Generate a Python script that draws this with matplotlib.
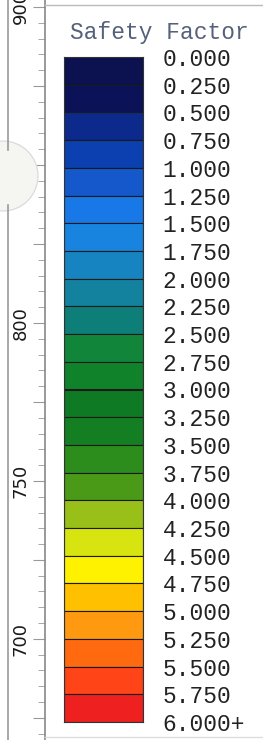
import matplotlib
matplotlib.use("Agg")
import matplotlib.pyplot as plt
from matplotlib.lines import Line2D
from matplotlib.patches import Circle

# legend levels and band colours
levels = [0.0, 0.25, 0.5, 0.75, 1.0, 1.25, 1.5, 1.75, 2.0, 2.25, 2.5, 2.75,
          3.0, 3.25, 3.5, 3.75, 4.0, 4.25, 4.5, 4.75, 5.0, 5.25, 5.5, 5.75, 6.0]
level_labels = [f"{v:.3f}" for v in levels[:-1]] + ["6.000+"]
band_colors = [
    "#0c1150", "#0b1258", "#0b2a8c", "#0c40b0", "#1458cc", "#1878e8",
    "#1884e0", "#1584c0", "#12829e", "#0e7e78", "#11863a", "#10832a",
    "#0f7a24", "#147e22", "#2c8c1c", "#4a9a18", "#98c018", "#d8e410",
    "#fff200", "#ffc000", "#ff9a10", "#ff6a10", "#ff4418", "#ee2020",
]
title = "Safety Factor"

# ruler on the left edge of the scan
ruler_range = (668.0, 902.2)
ruler_labels = [700, 750, 800, 900]

W, H = 263, 740
fig = plt.figure(figsize=(W / 100, H / 100), dpi=100)
fig.patch.set_facecolor("white")


def fx(px):
    return px / W


def fy(py):
    return 1 - py / H


# colour bar
cax = fig.add_axes([fx(64), fy(722), fx(143) - fx(64), fy(57) - fy(722)])
heights = [levels[i + 1] - levels[i] for i in range(len(band_colors))]
cax.bar(0, heights, bottom=levels[:-1], width=1.0, color=band_colors,
        edgecolor="#1a1a1a", linewidth=0.8, align="center")
cax.set_xlim(-0.5, 0.5)
cax.set_ylim(levels[-1], levels[0])
cax.set_xticks([])
cax.yaxis.tick_right()
cax.set_yticks(levels)
cax.set_yticklabels(level_labels, family="Liberation Mono", fontsize=16.5,
                    color="#222222")
cax.tick_params(axis="y", length=0, pad=14)
for sp in cax.spines.values():
    sp.set_color("#333333")
    sp.set_linewidth(0.8)

fig.text(fx(159), fy(32), title, family="Liberation Mono", fontsize=16.5,
         color="#55607a", ha="center", va="center")

# ruler axis
rax = fig.add_axes([fx(10), 0, fx(45) - fx(10), 1])
rax.set_facecolor("none")
rax.set_ylim(*ruler_range)
rax.set_xlim(0, 1)
rax.set_xticks([])
for name in ("left", "top", "bottom"):
    rax.spines[name].set_visible(False)
rax.spines["right"].set_color("#888888")
rax.spines["right"].set_linewidth(1.2)
rax.yaxis.tick_right()
rax.set_yticks(range(675, 905, 25))
rax.set_yticks(range(670, 905, 5), minor=True)
rax.tick_params(axis="y", which="major", direction="in", length=9,
                color="#999999", labelright=False)
rax.tick_params(axis="y", which="minor", direction="in", length=5,
                color="#999999")
for v in ruler_labels:
    rax.text(0.3, v, str(v), rotation=90, ha="center", va="center",
             fontsize=13, color="#1a1a1a", family="DejaVu Sans")

# scan border lines and punch hole
fig.add_artist(Line2D([fx(8), fx(8)], [fy(0), fy(150)], color="#999999",
                      linewidth=1.2, transform=fig.transFigure))
fig.add_artist(Line2D([fx(8), fx(8)], [fy(205), fy(740)], color="#999999",
                      linewidth=1.2, transform=fig.transFigure))
fig.add_artist(Line2D([fx(45), fx(263)], [fy(5), fy(5)], color="#bbbbbb",
                      linewidth=1.0, transform=fig.transFigure))
fig.add_artist(Line2D([fx(45), fx(263)], [fy(737), fy(737)], color="#dddddd",
                      linewidth=1.0, transform=fig.transFigure))
fig.add_artist(Circle((3 / 100, (H - 176) / 100), 0.35, facecolor="#f5f5f2",
                      edgecolor="#d8d8d8", linewidth=0.8,
                      transform=fig.dpi_scale_trans))

fig.savefig("out.png", dpi=100, facecolor="white")
